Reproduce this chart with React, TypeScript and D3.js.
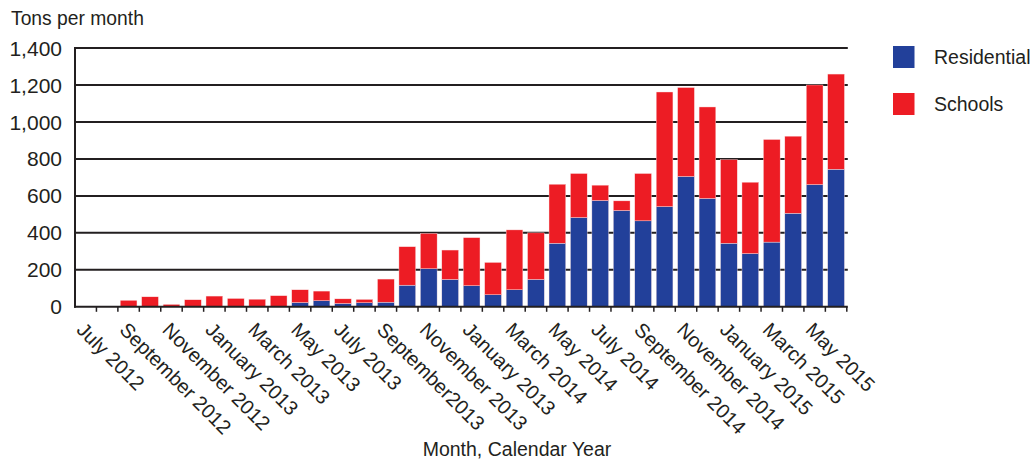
import React from "react";
import * as d3 from "d3";

const months = [
  "2012-07","2012-08","2012-09","2012-10","2012-11","2012-12",
  "2013-01","2013-02","2013-03","2013-04","2013-05","2013-06",
  "2013-07","2013-08","2013-09","2013-10","2013-11","2013-12",
  "2014-01","2014-02","2014-03","2014-04","2014-05","2014-06",
  "2014-07","2014-08","2014-09","2014-10","2014-11","2014-12",
  "2015-01","2015-02","2015-03","2015-04","2015-05","2015-06",
];

const residential = [
  0, 0, 0, 0, 0, 0,
  0, 0, 0, 0, 23, 33,
  18, 22, 25, 117, 206, 148,
  114, 65, 92, 148, 344, 483,
  575, 521, 465, 542, 705, 586,
  344, 288, 350, 506, 661, 744,
];

const schools = [
  0, 0, 35, 54, 13, 38,
  58, 45, 41, 60, 69, 52,
  25, 18, 125, 208, 191, 159,
  260, 175, 324, 252, 319, 238,
  83, 52, 256, 620, 481, 495,
  452, 386, 555, 417, 539, 515,
];

const tickLabels = [
  "July 2012","September 2012","November 2012","January 2013","March 2013","May 2013",
  "July 2013","September2013","November 2013","January 2013","March 2014","May 2014",
  "July 2014","September 2014","November 2014","January 2015","March 2015","May 2015",
];

const yTicks = [0, 200, 400, 600, 800, 1000, 1200, 1400];

const seriesNames = ["Residential", "Schools"];
const colors = ["#22409a", "#ed1c24"];

const W = 1034;
const H = 460;
const left = 75;
const right = 846.8;
const top = 48;
const bottom = 306.8;
const ink = "#231f20";
const font = "'Liberation Sans', Arial, sans-serif";

export default function App() {
  const x = d3.scaleBand<string>().domain(months).range([left, right]).paddingInner(0.22).paddingOuter(0.11);
  const y = d3.scaleLinear().domain([0, 1400]).range([bottom, top]);
  const fmt = d3.format(",");
  const step = x.step();

  const data = months.map((m, i) => ({ month: m, Residential: residential[i], Schools: schools[i] }));
  const stacked = d3.stack<any>().keys(seriesNames)(data);

  return (
    <svg width={W} height={H} style={{ position: "absolute", left: 0, top: 0, background: "#fff" }} fontFamily={font}>
      <text x={11} y={25} fontSize={19.3} fill={ink}>Tons per month</text>
      {yTicks.map((t) => (
        <g key={t}>
          {t > 0 && <line x1={left} x2={right + 1} y1={y(t)} y2={y(t)} stroke={ink} strokeWidth={2} />}
          <text x={62} y={y(t)} dy="0.36em" textAnchor="end" fontSize={21} fill={ink}>{fmt(t)}</text>
        </g>
      ))}
      {stacked.map((s, si) => (
        <g key={s.key} fill={colors[si]}>
          {s.map((d, i) => {
            const h = y(d[0]) - y(d[1]);
            if (h <= 0) return null;
            return (
              <rect key={i} x={x(months[i])} y={y(d[1])} width={x.bandwidth()} height={h}
                stroke="#fbe3e3" strokeWidth={0.4} />
            );
          })}
        </g>
      ))}
      <line x1={left} x2={left} y1={top - 1} y2={bottom + 1} stroke={ink} strokeWidth={2} />
      <line x1={left - 1} x2={right + 1} y1={bottom} y2={bottom} stroke={ink} strokeWidth={2} />
      {months.map((m) => {
        const tx = (x(m) as number) - step * x.paddingInner() / 2 + step;
        return <line key={m} x1={tx} x2={tx} y1={bottom} y2={bottom + 5} stroke={ink} strokeWidth={1.5} />;
      })}
      {tickLabels.map((lab, i) => {
        const m = months[i * 2];
        const cx = (x(m) as number) + x.bandwidth() / 2;
        return (
          <text key={i} transform={`translate(${cx},${bottom + 14}) rotate(45)`} dy="0.72em" fontSize={20} fill={ink}>
            {lab}
          </text>
        );
      })}
      <text x={517} y={456} textAnchor="middle" fontSize={19.5} fill={ink}>Month, Calendar Year</text>
      {seriesNames.map((n, i) => (
        <g key={n} transform={`translate(893,${46 + i * 47})`}>
          <rect width={21.5} height={22} fill={colors[i]} />
          <text x={41} y={11} dy="0.36em" fontSize={19.5} fill={ink}>{n}</text>
        </g>
      ))}
    </svg>
  );
}
